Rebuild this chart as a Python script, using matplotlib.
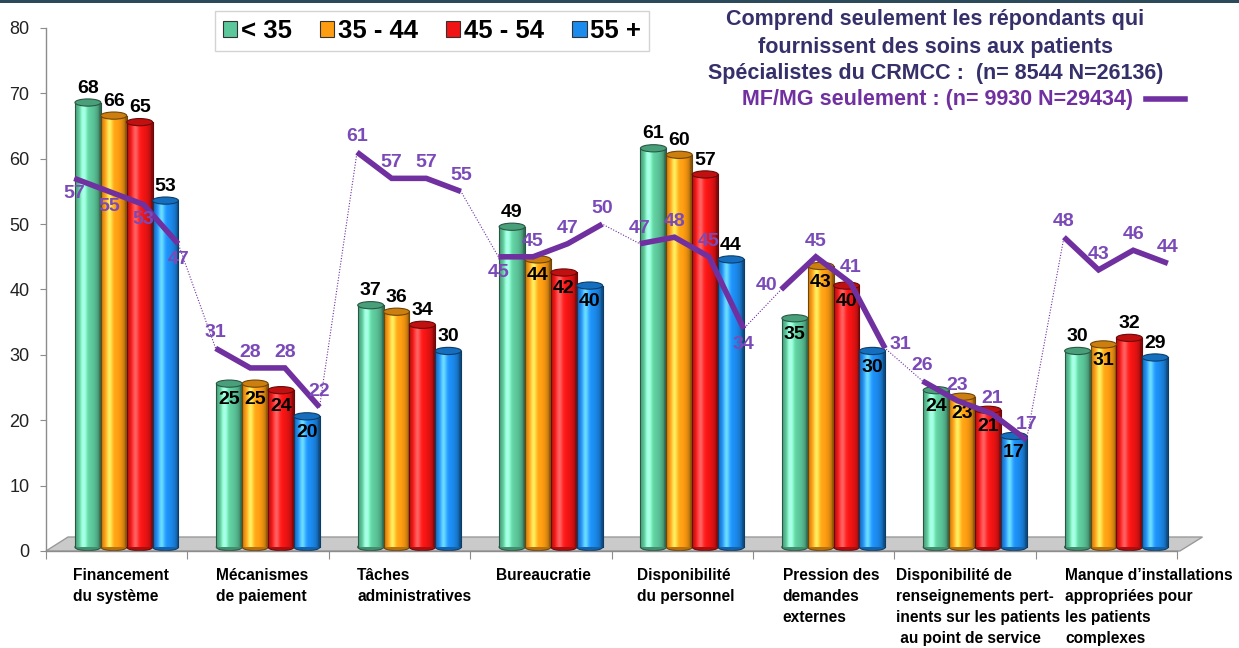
import numpy as np
import matplotlib
matplotlib.use("Agg")
import matplotlib.pyplot as plt
from matplotlib.patches import Ellipse, Polygon, Rectangle
from matplotlib.colors import to_rgb
from matplotlib.lines import Line2D

plt.rcParams['font.family'] = ['Liberation Sans', 'DejaVu Sans']

# ---------------- data ----------------
categories = [
    "Financement\ndu système",
    "Mécanismes\nde paiement",
    "Tâches\nadministratives",
    "Bureaucratie",
    "Disponibilité\ndu personnel",
    "Pression des\ndemandes\nexternes",
    "Disponibilité de\nrenseignements pert-\ninents sur les patients\n au point de service",
    "Manque d\u2019installations\nappropriées pour\nles patients\ncomplexes",
]
series_names = ["< 35", "35 - 44", "45 - 54", "55 +"]
lt35 = [68, 25, 37, 49, 61, 35, 24, 30]
a35_44 = [66, 25, 36, 44, 60, 43, 23, 31]
a45_54 = [65, 24, 34, 42, 57, 40, 21, 32]
a55p = [53, 20, 30, 40, 44, 30, 17, 29]
series = [lt35, a35_44, a45_54, a55p]

# MF/MG seulement (line), 4 age groups per category
mfmg = [
    [57, 55, 53, 47],
    [31, 28, 28, 22],
    [61, 57, 57, 55],
    [45, 45, 47, 50],
    [47, 48, 45, 34],
    [40, 45, 41, 31],
    [26, 23, 21, 17],
    [48, 43, 46, 44],
]
yticks = [0, 10, 20, 30, 40, 50, 60, 70, 80]

# ---------------- style ----------------
colors = ["#5CC79A", "#FF9D12", "#F01414", "#1C8BEE"]
purple = "#7030A0"
purple_txt = "#7A4AB8"
navy = "#35306A"
line_label_pos = ['b', 'b', 'b', 'b',
                  'a', 'a', 'a', 'a',
                  'a', 'a', 'a', 'a',
                  'b', 'a', 'a', 'a',
                  'a', 'a', 'a', 'b',
                  'l', 'a', 'a', 'r',
                  'a', 'a', 'a', 'a',
                  'a', 'a', 'a', 'a']
cat_label_dx = [0.19, 0.2, 0.2, 0.18, 0.18, 0.21, 0.01, 0.21]

fig = plt.figure(figsize=(12.39, 6.48), dpi=100)
ax = fig.add_axes([0.0371, 0.1497, 0.950 - 0.0371, 0.9568 - 0.1497])
ax.set_xlim(0, 8)
ax.set_ylim(0, 80)

# top dark border
fig.patches.append(Rectangle((0, 0.995), 1, 0.005, transform=fig.transFigure,
                             facecolor="#2C4A5A", edgecolor="none"))

# floor
floor = Polygon([(0, 0), (8.02, 0), (8.18, 2.14), (0.156, 2.14)], closed=True,
                facecolor="#CACACA", edgecolor="#9A9A9A", lw=1, zorder=1, clip_on=False)
ax.add_patch(floor)

bw = 0.183
x0 = 0.205
lift = 0.6
cap_h = 1.1


def shade_array(base):
    b = np.array(to_rgb(base))
    xs = np.linspace(-1, 1, 64)
    diff = 0.55 + 0.5 * np.sqrt(np.clip(1 - (xs + 0.1) ** 2, 0, 1))
    spec = np.exp(-((xs + 0.35) / 0.25) ** 2) * 0.3
    col = b[None, :] * diff[:, None] + spec[:, None]
    col = np.clip(col, 0, 1)
    return col[None, :, :]


for j, vals in enumerate(series):
    base = colors[j]
    grad = shade_array(base)
    dark = np.array(to_rgb(base)) * 0.55
    for i, v in enumerate(vals):
        xc = i + x0 + bw * (j + 0.5)
        xl, xr = xc - bw / 2, xc + bw / 2
        top = v + lift
        ax.add_patch(Ellipse((xc, lift), bw, cap_h, facecolor=np.clip(dark * 1.3, 0, 1),
                             edgecolor=dark * 0.8, lw=0.8, zorder=2 + j * 0.01))
        ax.imshow(grad, extent=(xl, xr, lift, top), aspect='auto',
                  interpolation='bilinear', zorder=2.1 + j * 0.01)
        ax.plot([xl, xl], [lift, top], color=dark * 0.8, lw=0.8, zorder=2.15 + j * 0.01)
        ax.plot([xr, xr], [lift, top], color=dark * 0.8, lw=0.8, zorder=2.15 + j * 0.01)
        capc = np.clip(np.array(to_rgb(base)) * 0.8, 0, 1)
        ax.add_patch(Ellipse((xc, top), bw, cap_h, facecolor=capc,
                             edgecolor=dark * 0.8, lw=0.8, zorder=2.2 + j * 0.01))
        lv = mfmg[i][j]
        inside = (lv >= v) and (lv - v <= 12)
        if inside:
            ax.text(xc, top - 1.2, str(v), ha='center', va='top', fontsize=14,
                    fontweight='bold', color='black', zorder=5)
        else:
            ax.text(xc, top + 0.9, str(v), ha='center', va='bottom', fontsize=14,
                    fontweight='bold', color='black', zorder=5)

# MF/MG line
xs_all, ys_all = [], []
for i, grp in enumerate(mfmg):
    xs = [i + 0.2 + 0.245 * k for k in range(4)]
    xs_all += xs
    ys_all += grp
ax.plot(xs_all, ys_all, color=purple, lw=0.8, ls=(0, (1, 1.5)), zorder=6)
for i in range(len(mfmg)):
    ax.plot(xs_all[4 * i:4 * i + 4], ys_all[4 * i:4 * i + 4], color=purple, lw=4,
            solid_joinstyle='miter', solid_capstyle='butt', zorder=7)
for k, (x, y) in enumerate(zip(xs_all, ys_all)):
    p = line_label_pos[k]
    if p == 'a':
        kw = dict(xy=(x, y), xytext=(0, 5), ha='center', va='bottom')
    elif p == 'b':
        kw = dict(xy=(x, y), xytext=(0, -5), ha='center', va='top')
    elif p == 'l':
        kw = dict(xy=(x, y), xytext=(-3, 3), ha='right', va='center')
    else:
        kw = dict(xy=(x, y), xytext=(3, 3), ha='left', va='center')
    ax.annotate(str(y), textcoords='offset points', fontsize=14, fontweight='bold',
                color=purple_txt, zorder=8, **kw)

# axes styling
for s in ['top', 'right']:
    ax.spines[s].set_visible(False)
for s in ['left', 'bottom']:
    ax.spines[s].set_color('#8C8C8C')
    ax.spines[s].set_linewidth(1.0)
ax.set_yticks(yticks)
ax.set_yticklabels([str(t) for t in yticks], fontsize=13, color='#222222')
ax.set_xticks(range(9))
ax.set_xticklabels([])
ax.tick_params(axis='y', length=4, color='#8C8C8C', pad=8)
ax.tick_params(axis='x', length=6, color='#8C8C8C')

for i, lab in enumerate(categories):
    ax.text(i + cat_label_dx[i], -2.6, lab, ha='left', va='top', fontsize=11.2,
            fontweight='bold', color='black', linespacing=1.5, clip_on=False)

# legend
handles = [Rectangle((0, 0), 1, 1, facecolor=c, edgecolor='#333333', lw=0.8) for c in colors]
leg = fig.legend(handles, series_names, loc='center', bbox_to_anchor=(432 / 1239, 1 - 31 / 648),
                 ncol=4, frameon=True, fancybox=False,
                 prop={'weight': 'bold', 'size': 18.5}, handlelength=0.55, handleheight=0.55,
                 handletextpad=0.15, columnspacing=1.1, borderpad=0.3)
leg.get_frame().set_edgecolor('#C8C8C8')
leg.get_frame().set_linewidth(1.0)

# annotation block
fs_t = 15.5
fig.text(935 / 1239, 1 - 20 / 648, "Comprend seulement les répondants qui", ha='center', va='center',
         fontsize=fs_t, fontweight='bold', color=navy)
fig.text(935 / 1239, 1 - 47 / 648, "fournissent des soins aux patients", ha='center', va='center',
         fontsize=fs_t, fontweight='bold', color=navy)
fig.text(936 / 1239, 1 - 73 / 648, "Spécialistes du CRMCC :  (n= 8544 N=26136)", ha='center', va='center',
         fontsize=fs_t, fontweight='bold', color=navy)
fig.text(938 / 1239, 1 - 99 / 648, "MF/MG seulement : (n= 9930 N=29434)", ha='center', va='center',
         fontsize=fs_t, fontweight='bold', color=purple)
fig.add_artist(Line2D([1146 / 1239, 1185 / 1239], [1 - 99 / 648, 1 - 99 / 648],
                      transform=fig.transFigure, color=purple, lw=4))

fig.savefig("out.png", dpi=100)
